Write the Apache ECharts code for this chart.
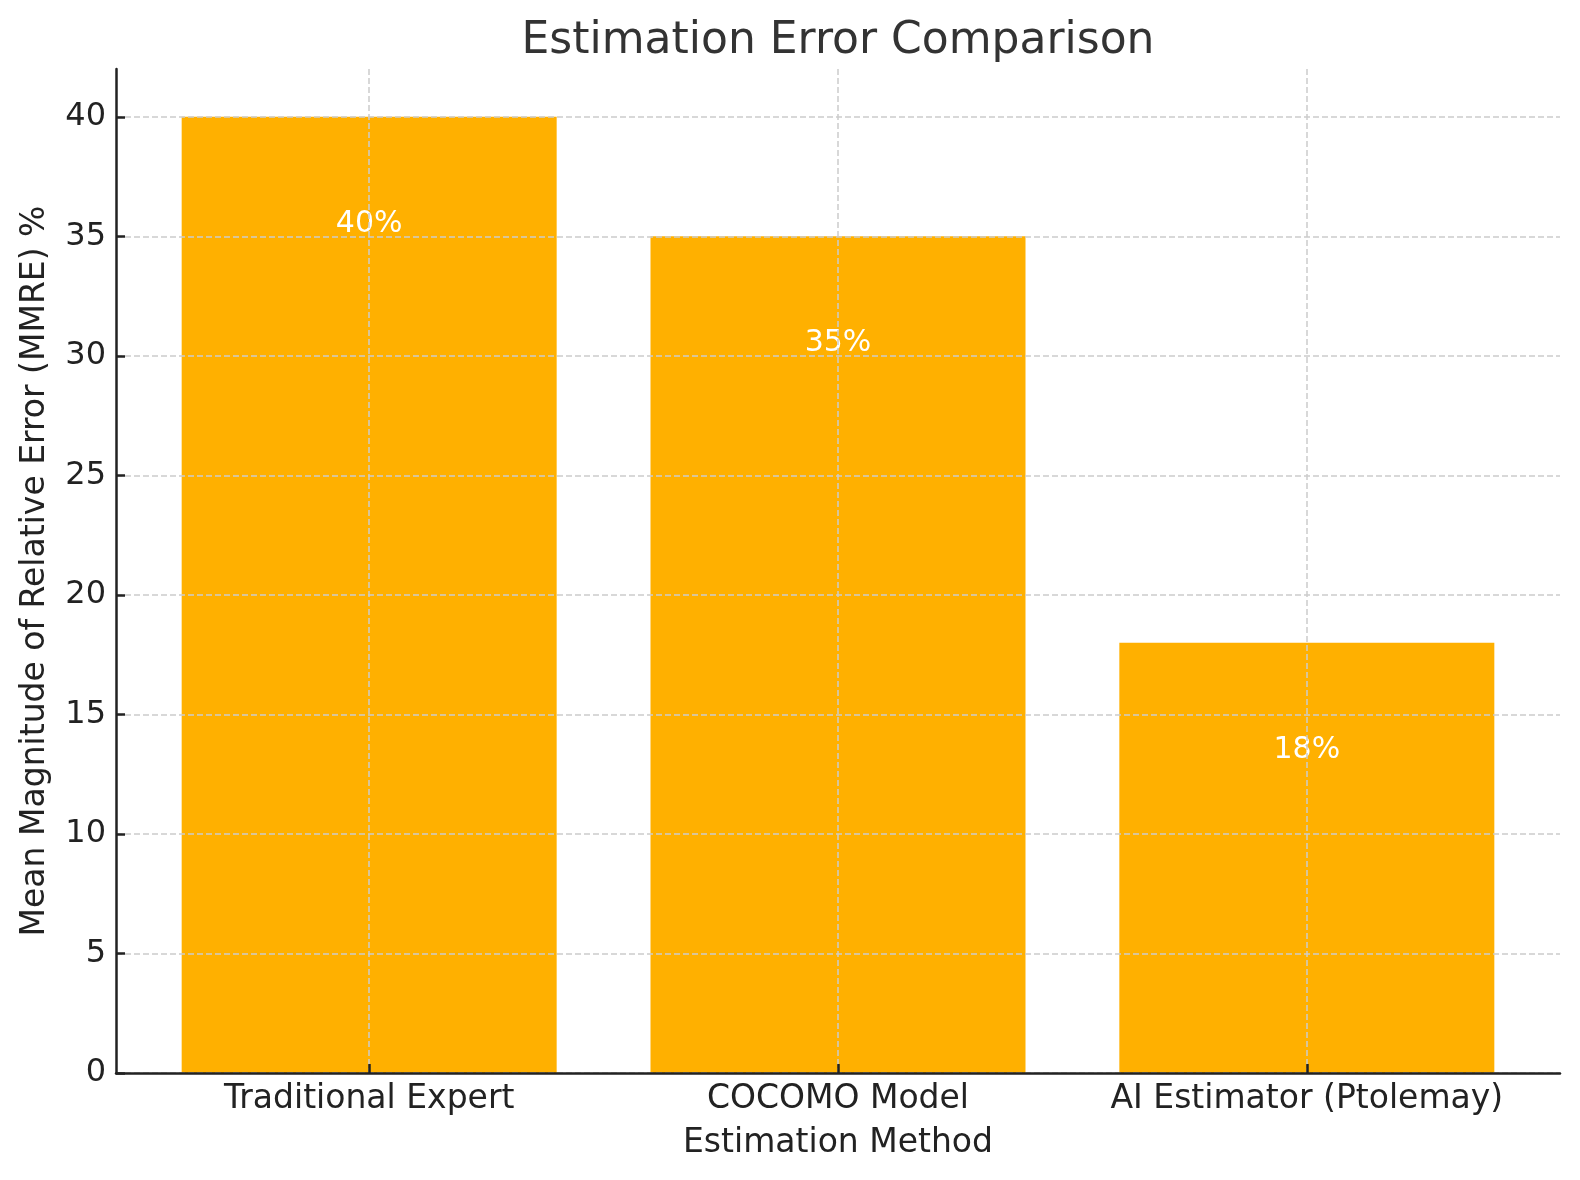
<!DOCTYPE html>
<html>
<head>
<meta charset="utf-8">
<script src="https://cdn.jsdelivr.net/npm/echarts@6/dist/echarts.min.js"></script>
<style>
html,body{margin:0;padding:0;background:#fff;}
#chart{width:1580px;height:1180px;}
</style>
</head>
<body>
<div id="chart"></div>
<script>
var categories = ['Traditional Expert', 'COCOMO Model', 'AI Estimator (Ptolemay)'];
var mmreValues = [40, 35, 18];
var yTicks = [0, 5, 10, 15, 20, 25, 30, 35, 40];
var xTicks = [0, 1, 2];

var FONT = 'DejaVu Sans';
var chart = echarts.init(document.getElementById('chart'), null, {renderer: 'canvas'});

var barData = mmreValues.map(function (v, i) { return [i, v]; });

var gridLineStyle = {color: '#cccccc', width: 1.5, type: [6, 3]};

chart.setOption({
  backgroundColor: '#ffffff',
  animation: false,
  title: {
    text: 'Estimation Error Comparison',
    left: 838,
    textAlign: 'center',
    top: 20,
    padding: 0,
    textStyle: {fontFamily: FONT, fontSize: 44, fontWeight: 'normal', color: '#333333'}
  },
  grid: {left: 116, right: 20, top: 69, bottom: 107, containLabel: false},
  xAxis: {
    type: 'value',
    min: -0.54,
    max: 2.54,
    z: 3,
    name: 'Estimation Method',
    nameLocation: 'middle',
    nameGap: 54,
    nameTextStyle: {fontFamily: FONT, fontSize: 33, color: '#222222'},
    axisLine: {show: true, onZero: false, lineStyle: {color: '#222222', width: 2.5}},
    axisTick: {show: true, inside: true, length: 9, customValues: xTicks, lineStyle: {color: '#222222', width: 2.5}},
    axisLabel: {
      customValues: xTicks,
      margin: 10,
      fontFamily: FONT, fontSize: 33, color: '#222222',
      formatter: function (v) { return categories[Math.round(v)]; }
    },
    splitLine: {show: true, lineStyle: gridLineStyle}
  },
  yAxis: {
    type: 'value',
    min: 0,
    max: 42,
    z: 3,
    name: 'Mean Magnitude of Relative Error (MMRE) %',
    nameLocation: 'middle',
    nameGap: 64,
    nameRotate: 90,
    nameTextStyle: {fontFamily: FONT, fontSize: 33, color: '#222222'},
    axisLine: {show: true, onZero: false, lineStyle: {color: '#222222', width: 2.5}},
    axisTick: {show: true, inside: true, length: 9, customValues: yTicks, lineStyle: {color: '#222222', width: 2.5}},
    axisLabel: {customValues: yTicks, margin: 10, fontFamily: FONT, fontSize: 32, color: '#222222'},
    splitLine: {show: true, lineStyle: gridLineStyle}
  },
  series: [{
    type: 'bar',
    data: barData,
    barWidth: 375,
    itemStyle: {color: '#FFB000'},
    label: {
      show: true,
      position: 'insideTop',
      distance: 92,
      fontFamily: FONT,
      fontSize: 30,
      color: '#ffffff',
      formatter: function (p) { return p.value[1] + '%'; }
    }
  }]
});
</script>
</body>
</html>
